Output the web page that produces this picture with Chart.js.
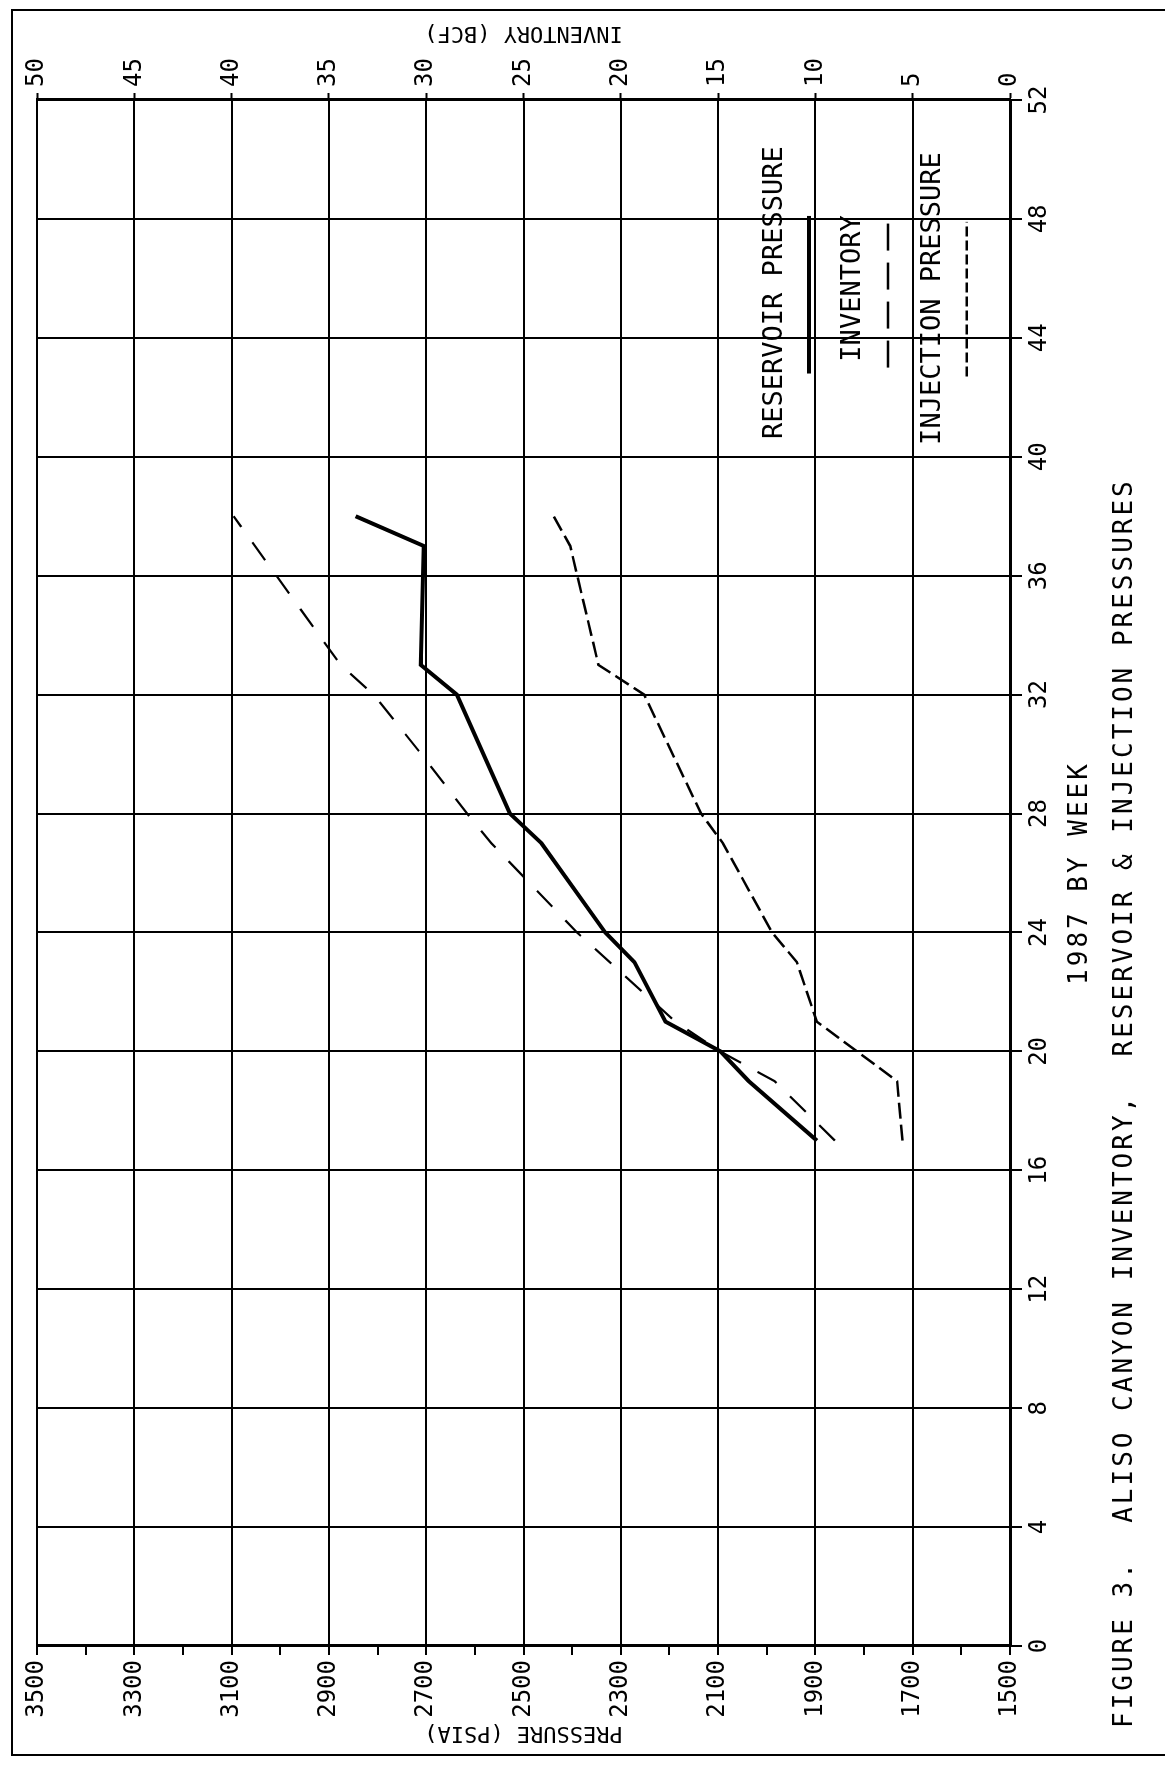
<!DOCTYPE html>
<html>
<head>
<meta charset="utf-8">
<title>Aliso Canyon inventory, reservoir and injection pressures</title>
<script src="https://cdn.jsdelivr.net/npm/chart.js@4.4.0/dist/chart.umd.min.js"></script>
<style>
html, body { margin: 0; padding: 0; background: #fff; overflow: hidden; }
/* the plot is drawn in landscape and the whole sheet turned a quarter left */
#sheet {
  position: absolute; left: 0; top: 0;
  width: 1765px; height: 1165px;
  transform-origin: 0 0;
  transform: translate(0px, 1765px) rotate(-90deg);
  background: #fff;
}
</style>
</head>
<body>
<div id="sheet"><canvas id="canvas" width="1765" height="1165"></canvas></div>
<script>
// 1987, by week (null = no corner read on that week, line runs straight through)
var weeks = [17, 18, 19, 20, 21, 22, 23, 24, 25, 26, 27, 28, 29, 30, 31, 32, 33, 34, 35, 36, 37, 38];
var reservoirPressure = [1897, null, 2037, 2095, 2208, null, 2272, 2332, null, null, 2463, 2528, null, null, null, 2637, 2711, null, null, null, 2705, 2845];
var inventory = [9.0, null, 12.1, 14.9, 17.2, null, null, 22.25, null, null, 26.65, 27.9, null, 30.25, null, 32.7, 34.4, null, null, null, null, 39.9];
var injectionPressure = [1721, null, 1732, null, 1897, null, 1938, 1989, null, null, 2090, 2135, null, null, null, 2252, 2346, null, null, null, 2404, 2438];

var weekTicks = [0, 4, 8, 12, 16, 20, 24, 28, 32, 36, 40, 44, 48, 52];
var pressureTicks = [1500, 1700, 1900, 2100, 2300, 2500, 2700, 2900, 3100, 3300, 3500];
var pressureMinorTicks = [1600, 1800, 2000, 2200, 2400, 2600, 2800, 3000, 3200, 3400];
var inventoryTicks = [0, 5, 10, 15, 20, 25, 30, 35, 40, 45, 50];

function points(vals) {
  var out = [];
  for (var i = 0; i < weeks.length; i++) {
    if (vals[i] !== null) out.push({x: weeks[i], y: vals[i]});
  }
  return out;
}
function asTicks(list) {
  return list.slice().sort(function(a, b) { return a - b; }).map(function(v) { return {value: v}; });
}

Chart.defaults.font.family = '"DejaVu Sans Mono", monospace';
Chart.defaults.color = '#000';

var mono = '"DejaVu Sans Mono", monospace';

// texts that are not plain tick labels, plus the legend and the sheet frame
var sheetText = {
  id: 'sheetText',
  afterDraw: function(chart) {
    var ctx = chart.ctx, a = chart.chartArea;
    var xs = chart.scales.x, ys = chart.scales.y;
    var midV = (a.top + a.bottom) / 2;
    ctx.save();
    ctx.fillStyle = '#000';
    ctx.strokeStyle = '#000';

    // sheet frame
    ctx.lineWidth = 2;
    ctx.beginPath();
    ctx.moveTo(10, 1165); ctx.lineTo(10, 12); ctx.lineTo(1755, 12); ctx.lineTo(1755, 1165);
    ctx.stroke();

    // axis titles (both come out upside down on the turned sheet)
    ctx.font = '22px ' + mono;
    ctx.textAlign = 'center';
    ctx.textBaseline = 'alphabetic';
    [['PRESSURE (PSIA)', 38], ['INVENTORY (BCF)', 1738]].forEach(function(t) {
      ctx.save();
      ctx.translate(t[1], midV);
      ctx.rotate(-Math.PI / 2);
      ctx.fillText(t[0], 0, 0);
      ctx.restore();
    });

    ctx.font = '26px ' + mono;
    ctx.letterSpacing = '3px';
    ctx.textAlign = 'center';
    ctx.fillText('1987 BY WEEK', (a.left + a.right) / 2, 1087);
    ctx.textAlign = 'left';
    ctx.fillText('FIGURE 3.  ALISO CANYON INVENTORY,  RESERVOIR & INJECTION PRESSURES', 37, 1132);
    ctx.letterSpacing = '0px';

    // legend inside the plot
    var items = [
      {ds: 0, textWeek: 40.6, textP: 1969, lineP: 1913, from: 42.8, to: 48.1, dash: [], width: 4},
      {ds: 1, textWeek: 43.2, textP: 1808, lineP: 1751, from: 43.0, to: 47.9, dash: [27, 12], width: 2.5},
      {ds: 2, textWeek: 40.4, textP: 1644, lineP: 1589, from: 42.7, to: 47.9, dash: [10, 4], width: 2.5}
    ];
    ctx.font = '27px ' + mono;
    ctx.textAlign = 'left';
    items.forEach(function(it) {
      ctx.fillText(chart.data.datasets[it.ds].label, xs.getPixelForValue(it.textWeek), ys.getPixelForValue(it.textP));
      ctx.lineWidth = it.width;
      ctx.setLineDash(it.dash);
      ctx.beginPath();
      var v = ys.getPixelForValue(it.lineP);
      ctx.moveTo(xs.getPixelForValue(it.from), v);
      ctx.lineTo(xs.getPixelForValue(it.to), v);
      ctx.stroke();
    });
    ctx.restore();
  }
};

var config = {
  type: 'line',
  data: {
    datasets: [
      {
        label: 'RESERVOIR PRESSURE',
        data: points(reservoirPressure),
        yAxisID: 'y',
        borderColor: '#000',
        borderWidth: 4,
        pointRadius: 0,
        tension: 0
      },
      {
        label: 'INVENTORY',
        data: points(inventory),
        yAxisID: 'y2',
        borderColor: '#000',
        borderWidth: 2.2,
        borderDash: [22, 19],
        pointRadius: 0,
        tension: 0
      },
      {
        label: 'INJECTION PRESSURE',
        data: points(injectionPressure),
        yAxisID: 'y',
        borderColor: '#000',
        borderWidth: 2.5,
        borderDash: [16, 6],
        pointRadius: 0,
        tension: 0
      }
    ]
  },
  options: {
    responsive: false,
    devicePixelRatio: 1,
    animation: false,
    events: [],
    layout: { padding: { top: 37, left: 0, right: 0, bottom: 0 } },
    plugins: {
      legend: { display: false },
      tooltip: { enabled: false },
      title: { display: false }
    },
    scales: {
      x: {
        type: 'linear',
        position: 'bottom',
        min: 0,
        max: 52,
        afterBuildTicks: function(s) { s.ticks = asTicks(weekTicks); },
        afterFit: function(s) { s.height = 155; },
        ticks: { font: { size: 24 }, color: '#000', padding: 3, maxRotation: 0, autoSkip: false },
        grid: { color: '#000', lineWidth: 2, tickLength: 12, tickColor: '#000', tickWidth: 2 },
        border: { color: '#000', width: 3 }
      },
      y: {
        type: 'linear',
        position: 'left',
        min: 1500,
        max: 3500,
        afterBuildTicks: function(s) { s.ticks = asTicks(pressureTicks.concat(pressureMinorTicks)); },
        afterFit: function(s) { s.width = 119; },
        ticks: {
          font: { size: 24 },
          color: '#000',
          padding: 5,
          autoSkip: false,
          callback: function(v) { return pressureTicks.indexOf(v) >= 0 ? String(v) : ''; }
        },
        grid: {
          lineWidth: 2,
          tickLength: 9,
          tickWidth: 2,
          tickColor: '#000',
          color: function(c) {
            return c.tick && pressureTicks.indexOf(c.tick.value) >= 0 ? '#000' : 'rgba(0,0,0,0)';
          }
        },
        border: { color: '#000', width: 3 }
      },
      y2: {
        type: 'linear',
        position: 'right',
        min: 0,
        max: 50,
        afterBuildTicks: function(s) { s.ticks = asTicks(inventoryTicks); },
        afterFit: function(s) { s.width = 100; },
        ticks: { font: { size: 24 }, color: '#000', padding: 6, autoSkip: false },
        grid: { drawOnChartArea: false, tickLength: 7, tickColor: '#000', tickWidth: 2 },
        border: { color: '#000', width: 3 }
      }
    }
  },
  plugins: [sheetText]
};

var canvasElement = document.getElementById('canvas');
var pressureChart = new Chart(canvasElement, config);
</script>
</body>
</html>
